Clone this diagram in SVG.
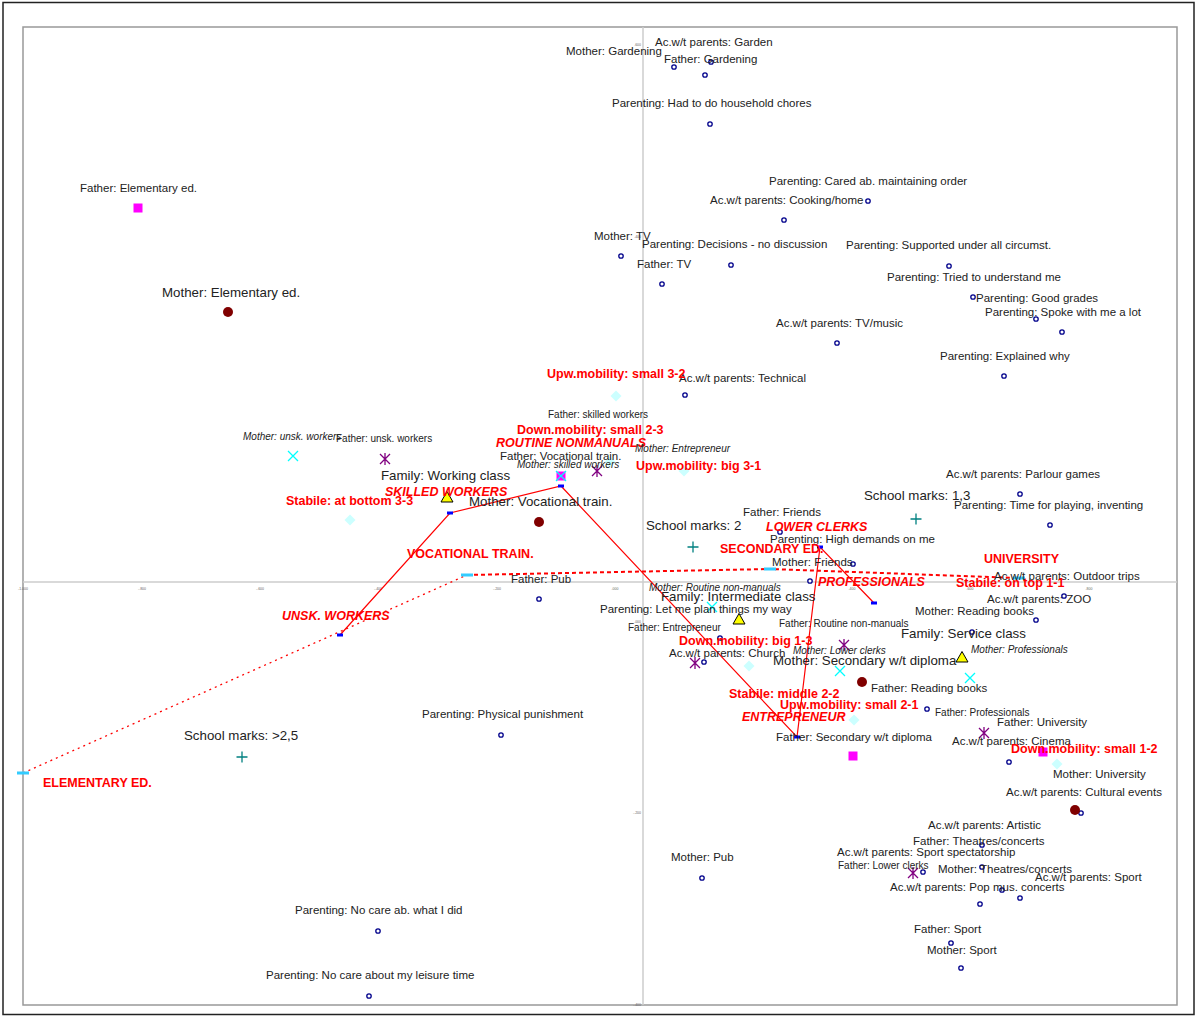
<svg xmlns="http://www.w3.org/2000/svg" width="1197" height="1017" viewBox="0 0 1197 1017">
<style>
text{font-family:"Liberation Sans",Arial,sans-serif;font-size:11.5px;fill:#222}
.s{font-size:10px}
.i{font-style:italic}
.L{font-size:13.3px}
.r{font-size:12.5px;font-weight:bold;fill:#f00}
.ri{font-size:12.5px;font-weight:bold;font-style:italic;fill:#f00}
.tk{font-size:3.5px;fill:#666}
.ax{stroke:#ccc;stroke-width:1.5;fill:none}
</style>
<defs>
<circle id="bc" r="2.2" fill="#fff" stroke="#00008b" stroke-width="1.3"/>
<rect id="ms" x="-4.5" y="-4.5" width="9" height="9" fill="#f0f"/>
<circle id="dr" r="5" fill="#800000"/>
<path id="yt" d="M0,-5.5 L6,5 L-6,5 Z" fill="#ff0" stroke="#000" stroke-width="1"/>
<path id="cx" d="M-5,-5 L5,5 M5,-5 L-5,5" stroke="#0ff" stroke-width="1.3" fill="none"/>
<path id="pa" d="M-5,-5 L5,5 M5,-5 L-5,5 M0,-6 L0,6" stroke="#800080" stroke-width="1.3" fill="none"/>
<path id="ld" d="M0,-5.5 L5.5,0 L0,5.5 L-5.5,0 Z" fill="#ccffff"/>
<path id="tp" d="M-5.5,0 L5.5,0 M0,-5.5 L0,5.5" stroke="#008080" stroke-width="1.3" fill="none"/>
<rect id="bd" x="-3" y="-1.5" width="6" height="3" fill="#00f"/>
<rect id="cd" x="-6" y="-1.5" width="12" height="3" fill="#33ccff"/>
</defs>
<rect x="0" y="0" width="1197" height="1017" fill="#fff"/>
<rect x="3" y="2.5" width="1191" height="1012" fill="none" stroke="#222" stroke-width="1.5"/>
<rect x="23" y="27" width="1154" height="978" fill="none" stroke="#999" stroke-width="1.5"/>
<g id="axes">
<line class="ax" x1="643" y1="27" x2="643" y2="1005"/>
<line class="ax" x1="23" y1="582" x2="1177" y2="582"/>
<text class="tk" x="23" y="590" text-anchor="middle">-1.000</text>
<text class="tk" x="142" y="590" text-anchor="middle">-.800</text>
<text class="tk" x="260" y="590" text-anchor="middle">-.600</text>
<text class="tk" x="378" y="590" text-anchor="middle">-.400</text>
<text class="tk" x="497" y="590" text-anchor="middle">-.200</text>
<text class="tk" x="615" y="590" text-anchor="middle">.000</text>
<text class="tk" x="852" y="590" text-anchor="middle">.400</text>
<text class="tk" x="970" y="590" text-anchor="middle">.600</text>
<text class="tk" x="1089" y="590" text-anchor="middle">.800</text>
<text class="tk" x="641" y="46" text-anchor="end">.600</text>
<text class="tk" x="641" y="238" text-anchor="end">.400</text>
<text class="tk" x="641" y="623" text-anchor="end">.000</text>
<text class="tk" x="641" y="814" text-anchor="end">-.200</text>
<text class="tk" x="641" y="1006" text-anchor="end">-.400</text>
</g>
<g id="connectors">
<polyline points="23,773 467,575" fill="none" stroke="#f00" stroke-width="1.3" stroke-dasharray="2,4"/>
<polyline points="467,575 770,569 1019,578" fill="none" stroke="#f00" stroke-width="2" stroke-dasharray="4,3"/>
<polyline points="340,635 450,513 561,486 797,737 820,547 874,603" fill="none" stroke="#f00" stroke-width="1.2"/>
<use href="#cd" x="23" y="773"/>
<use href="#cd" x="467" y="575"/>
<use href="#cd" x="770" y="569"/>
<use href="#cd" x="1019" y="578"/>
<use href="#bd" x="340" y="635"/>
<use href="#bd" x="450" y="513"/>
<use href="#bd" x="561" y="486"/>
<use href="#bd" x="797" y="737"/>
<use href="#bd" x="820" y="547"/>
<use href="#bd" x="874" y="603"/>
</g>
<g id="markers">
<use href="#bc" x="674" y="67"/><use href="#bc" x="705" y="75"/><use href="#bc" x="711" y="62"/>
<use href="#bc" x="710" y="124"/><use href="#bc" x="868" y="201"/><use href="#bc" x="784" y="220"/>
<use href="#bc" x="621" y="256"/><use href="#bc" x="731" y="265"/><use href="#bc" x="662" y="284"/>
<use href="#bc" x="949" y="266"/><use href="#bc" x="973" y="297"/><use href="#bc" x="1036" y="319"/>
<use href="#bc" x="1062" y="332"/><use href="#bc" x="837" y="343"/><use href="#bc" x="1004" y="376"/>
<use href="#bc" x="685" y="395"/><use href="#bc" x="1020" y="494"/><use href="#bc" x="1050" y="525"/>
<use href="#bc" x="780" y="532"/><use href="#bc" x="853" y="564"/><use href="#bc" x="810" y="581"/>
<use href="#bc" x="1064" y="596"/><use href="#bc" x="1036" y="620"/><use href="#bc" x="539" y="599"/>
<use href="#bc" x="972" y="632"/><use href="#bc" x="720" y="638"/><use href="#bc" x="704" y="662"/>
<use href="#bc" x="927" y="709"/><use href="#bc" x="1009" y="762"/><use href="#bc" x="1081" y="813"/>
<use href="#bc" x="982" y="845"/><use href="#bc" x="923" y="872"/><use href="#bc" x="982" y="867"/>
<use href="#bc" x="1002" y="890"/><use href="#bc" x="1020" y="898"/><use href="#bc" x="980" y="904"/>
<use href="#bc" x="951" y="943"/><use href="#bc" x="961" y="968"/><use href="#bc" x="702" y="878"/>
<use href="#bc" x="378" y="931"/><use href="#bc" x="369" y="996"/><use href="#bc" x="501" y="735"/>
<use href="#ld" x="616" y="396"/><use href="#ld" x="684" y="471"/><use href="#ld" x="610" y="462"/>
<use href="#ld" x="350" y="520"/><use href="#ld" x="749" y="666"/><use href="#ld" x="854" y="720"/>
<use href="#ld" x="1057" y="764"/>
<use href="#ms" x="138" y="208"/><use href="#ms" x="561" y="476"/><use href="#ms" x="853" y="756"/><use href="#ms" x="1043" y="752"/>
<use href="#dr" x="228" y="312"/><use href="#dr" x="539" y="522"/><use href="#dr" x="862" y="682"/><use href="#dr" x="1075" y="810"/>
<use href="#yt" x="447" y="497"/><use href="#yt" x="739" y="619"/><use href="#yt" x="962" y="657"/>
<use href="#cx" x="293" y="456"/><use href="#cx" x="561" y="476"/><use href="#cx" x="712" y="607"/><use href="#cx" x="840" y="671"/><use href="#cx" x="970" y="678"/>
<use href="#pa" x="385" y="459"/><use href="#pa" x="597" y="471"/><use href="#pa" x="695" y="663"/><use href="#pa" x="844" y="645"/><use href="#pa" x="984" y="733"/><use href="#pa" x="913" y="873"/>
<use href="#tp" x="242" y="757"/><use href="#tp" x="693" y="547"/><use href="#tp" x="916" y="519"/>
</g>
<g id="labels">
<text x="655" y="46">Ac.w/t parents: Garden</text>
<text x="566" y="55">Mother: Gardening</text>
<text x="664" y="63">Father: Gardening</text>
<text x="612" y="107">Parenting: Had to do household chores</text>
<text x="769" y="185">Parenting: Cared ab. maintaining order</text>
<text x="710" y="204">Ac.w/t parents: Cooking/home</text>
<text x="80" y="192">Father: Elementary ed.</text>
<text x="594" y="240">Mother: TV</text>
<text x="642" y="248">Parenting: Decisions - no discussion</text>
<text x="846" y="249">Parenting: Supported under all circumst.</text>
<text x="637" y="268">Father: TV</text>
<text x="887" y="281">Parenting: Tried to understand me</text>
<text class="L" x="162" y="297">Mother: Elementary ed.</text>
<text x="976" y="302">Parenting: Good grades</text>
<text x="985" y="316">Parenting: Spoke with me a lot</text>
<text x="776" y="327">Ac.w/t parents: TV/music</text>
<text x="940" y="360">Parenting: Explained why</text>
<text x="679" y="382">Ac.w/t parents: Technical</text>
<text class="r" x="547" y="378">Upw.mobility: small 3-2</text>
<text class="s" x="548" y="418">Father: skilled workers</text>
<text class="r" x="517" y="434">Down.mobility: small 2-3</text>
<text class="s i" x="243" y="440">Mother: unsk. workers</text>
<text class="s" x="336" y="442">Father: unsk. workers</text>
<text class="ri" x="496" y="447">ROUTINE NONMANUALS</text>
<text class="s i" x="635" y="452">Mother: Entrepreneur</text>
<text x="500" y="460">Father: Vocational train.</text>
<text class="s i" x="517" y="468">Mother: skilled workers</text>
<text class="r" x="636" y="470">Upw.mobility: big 3-1</text>
<text class="L" x="381" y="480">Family: Working class</text>
<text x="946" y="478">Ac.w/t parents: Parlour games</text>
<text class="ri" x="385" y="496">SKILLED WORKERS</text>
<text class="L" x="864" y="500">School marks: 1,3</text>
<text class="r" x="286" y="505">Stabile: at bottom 3-3</text>
<text class="L" x="469" y="506">Mother: Vocational train.</text>
<text x="954" y="509">Parenting: Time for playing, inventing</text>
<text x="743" y="516">Father: Friends</text>
<text class="L" x="646" y="530">School marks: 2</text>
<text class="ri" x="766" y="531">LOWER CLERKS</text>
<text x="770" y="543">Parenting: High demands on me</text>
<text class="r" x="720" y="553">SECONDARY ED.</text>
<text class="r" x="407" y="558">VOCATIONAL TRAIN.</text>
<text class="r" x="984" y="563">UNIVERSITY</text>
<text x="772" y="566">Mother: Friends</text>
<text x="994" y="580">Ac.w/t parents: Outdoor trips</text>
<text x="511" y="583">Father: Pub</text>
<text class="ri" x="818" y="586">PROFESSIONALS</text>
<text class="r" x="956" y="587">Stabile: on top 1-1</text>
<text class="s i" x="649" y="591">Mother: Routine non-manuals</text>
<text class="L" x="661" y="601">Family: Intermediate class</text>
<text x="987" y="603">Ac.w/t parents: ZOO</text>
<text x="600" y="613">Parenting: Let me plan things my way</text>
<text x="915" y="615">Mother: Reading books</text>
<text class="ri" x="282" y="620">UNSK. WORKERS</text>
<text class="s" x="779" y="627">Father: Routine non-manuals</text>
<text class="s" x="628" y="631">Father: Entrepreneur</text>
<text class="L" x="901" y="638">Family: Service class</text>
<text class="r" x="679" y="645">Down.mobility: big 1-3</text>
<text class="s i" x="793" y="654">Mother: Lower clerks</text>
<text class="s i" x="971" y="653">Mother: Professionals</text>
<text x="669" y="657">Ac.w/t parents: Church</text>
<text class="L" x="773" y="665">Mother: Secondary w/t diploma</text>
<text x="871" y="692">Father: Reading books</text>
<text class="r" x="729" y="698">Stabile: middle 2-2</text>
<text class="r" x="780" y="709">Upw.mobility: small 2-1</text>
<text x="422" y="718">Parenting: Physical punishment</text>
<text class="s" x="935" y="716">Father: Professionals</text>
<text class="ri" x="742" y="721">ENTREPRENEUR</text>
<text x="997" y="726">Father: University</text>
<text class="L" x="184" y="740">School marks: &gt;2,5</text>
<text x="776" y="741">Father: Secondary w/t diploma</text>
<text x="952" y="745">Ac.w/t parents: Cinema</text>
<text class="r" x="1011" y="753">Down.mobility: small 1-2</text>
<text x="1053" y="778">Mother: University</text>
<text class="r" x="43" y="787">ELEMENTARY ED.</text>
<text x="1006" y="796">Ac.w/t parents: Cultural events</text>
<text x="928" y="829">Ac.w/t parents: Artistic</text>
<text x="913" y="845">Father: Theatres/concerts</text>
<text x="837" y="856">Ac.w/t parents: Sport spectatorship</text>
<text x="671" y="861">Mother: Pub</text>
<text class="s" x="838" y="869">Father: Lower clerks</text>
<text x="938" y="873">Mother: Theatres/concerts</text>
<text x="1035" y="881">Ac.w/t parents: Sport</text>
<text x="890" y="891">Ac.w/t parents: Pop mus. concerts</text>
<text x="295" y="914">Parenting: No care ab. what I did</text>
<text x="914" y="933">Father: Sport</text>
<text x="927" y="954">Mother: Sport</text>
<text x="266" y="979">Parenting: No care about my leisure time</text>
</g>
</svg>
